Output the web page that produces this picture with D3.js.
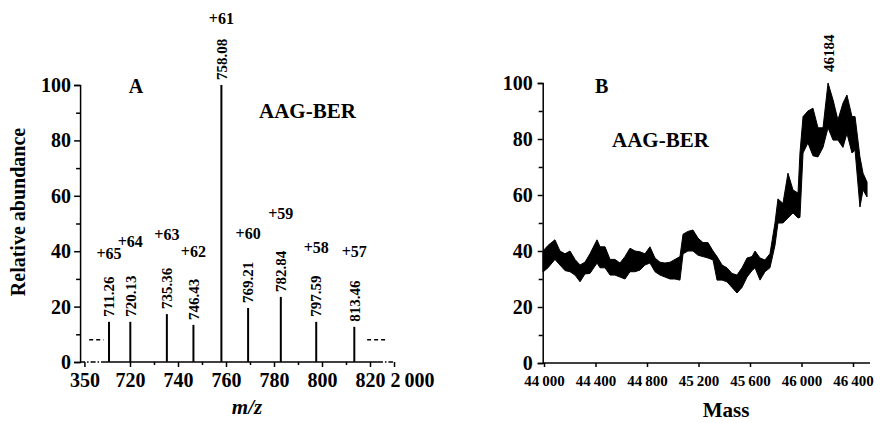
<!DOCTYPE html>
<html><head><meta charset="utf-8">
<script src="https://cdn.jsdelivr.net/npm/d3@7"></script>
<style>
body{margin:0;background:#fff}
svg text{font-family:"Liberation Serif","Times New Roman",serif;font-weight:bold;fill:#000}
</style></head><body><svg id="c" width="887" height="423"></svg>
<script>
// ---------- Panel A data ----------
const peakMz     = [711.26, 720.13, 735.36, 746.43, 758.08, 769.21, 782.84, 797.59, 813.46];
const peakAbund  = [14.5, 14.5, 17.3, 13.4, 100, 19.5, 23.5, 14.5, 12.7];
const peakCharge = ["+65", "+64", "+63", "+62", "+61", "+60", "+59", "+58", "+57"];
const chargeLevel = [37.2, 41.5, 44, 37.9, 122, 44.4, 51.6, 39.4, 37.9];
const aMajorTicks = [720, 740, 760, 780, 800, 820];
const aMajorLabels = ["720", "740", "760", "780", "800", "820"];
const aMinorTicks = [730, 750, 770, 790, 810];
const aBreakTicks = [701, 830];          // axis positions standing for the broken ends
const aBreakLabels = ["350", "2\u2009000"];
const aNoiseDashes = [[703, 709], [818.8, 827]]; // m/z spans of "- - -" marks
const aNoiseLevel = 8;
const yMajor = [0, 20, 40, 60, 80, 100];
const yMinor = [10, 30, 50, 70, 90];

// ---------- Panel B data ----------
const bMassTicks = [44000, 44400, 44800, 45200, 45600, 46000, 46400];
const bMassLabels = ["44\u2009000", "44\u2009400", "44\u2009800", "45\u2009200", "45\u2009600", "46\u2009000", "46\u2009400"];
const traceMass = [43992,44031,44085,44124,44163,44202,44241,44280,44318,44357,44412,44435,44474,44513,44551,44590,44629,44668,44707,44746,44784,44823,44862,44901,44940,44979,45017,45056,45080,45118,45157,45196,45235,45274,45313,45344,45383,45421,45460,45499,45538,45577,45616,45639,45678,45716,45755,45794,45817,45856,45895,45934,45973,45988,46012,46050,46089,46128,46167,46206,46245,46283,46322,46353,46392,46416,46454,46478,46509];
const traceUpper = [40,42,44,40,39,40,37,35,36,39,44,41.5,41.5,37,37,35.7,38,41,40,39.7,39,41.5,37.5,36,35.7,36,37,38,46,47,47.5,44.6,43,43,40,38,35,34,32,31.4,34,37.5,38,40,37.5,36.8,39,50,58.6,57,67.8,61.8,60.7,75,88,90,91,84,84,100,94,86.8,92.8,95.7,88,88,73.6,67.8,64.6];
const traceLower = [32.5,34,37,35,33,32.6,31.4,29,31.8,32,35.7,34,34,31.4,31.4,30.7,30,32.6,32.6,33.2,35,35.7,32.6,31.4,30.7,30,30,29.6,39,40,40,38.5,38,37.5,36.8,29.6,29.6,29,27,25,27,30.7,33,34,29.6,32.6,34,42,50,50,51.8,53.6,51.8,52,75,78.6,74,73.6,77,84,79.6,79.6,77,82,75,76,55.7,61.8,59.3];
const bPeakLabel = "46184";

const svg = d3.select("#c");

// ================= Panel A =================
const xA = d3.scaleLinear().domain([720, 820]).range([130, 370]);
const yA = d3.scaleLinear().domain([0, 100]).range([362, 85]);
const gA = svg.append("g");

const yAxA = gA.append("g").attr("transform", `translate(${xA(699.2)},0)`)
  .call(d3.axisLeft(yA).tickValues(yMajor).tickSize(6).tickPadding(3));
gA.append("g").attr("transform", `translate(${xA(699.2)},0)`)
  .call(d3.axisLeft(yA).tickValues(yMinor).tickSize(4).tickFormat(""))
  .select(".domain").remove();
yAxA.selectAll("text").style("font-size", "20px");

const allAT = aMajorTicks.concat(aBreakTicks);
const allAL = aMajorLabels.concat(aBreakLabels);
const xAxA = gA.append("g").attr("transform", `translate(0,${yA(0)})`)
  .call(d3.axisBottom(xA).tickValues(allAT).tickSize(5).tickPadding(6)
    .tickFormat((d, i) => allAL[i]));
xAxA.select(".domain").remove();
xAxA.selectAll("text").style("font-size", "20px");
xAxA.selectAll(".tick").filter(d => d === 830).select("text")
  .attr("text-anchor", "start").attr("dx", "-4");
gA.append("g").attr("transform", `translate(0,${yA(0)})`)
  .call(d3.axisBottom(xA).tickValues(aMinorTicks).tickSize(3).tickFormat(""))
  .select(".domain").remove();
gA.append("line").attr("x1", xA(709.6)).attr("x2", xA(823.3))
  .attr("y1", yA(0)).attr("y2", yA(0)).attr("stroke", "#000").attr("stroke-width", 1.5);
[[699.2, 709.6], [823.3, 829.6]].forEach(s => {
  gA.append("line").attr("x1", xA(s[0])).attr("x2", xA(s[1]))
    .attr("y1", yA(0)).attr("y2", yA(0)).attr("stroke", "#000").attr("stroke-width", 1.5)
    .attr("stroke-dasharray", "5,2,1.5,2");
});

aNoiseDashes.forEach(s => {
  gA.append("line").attr("x1", xA(s[0])).attr("x2", xA(s[1]))
    .attr("y1", yA(aNoiseLevel)).attr("y2", yA(aNoiseLevel))
    .attr("stroke", "#000").attr("stroke-width", 1.5).attr("stroke-dasharray", "4,3");
});

const peaks = peakMz.map((m, i) => ({m, a: peakAbund[i], z: peakCharge[i], lv: chargeLevel[i]}));
gA.selectAll(".pk").data(peaks).join("line")
  .attr("x1", d => xA(d.m)).attr("x2", d => xA(d.m))
  .attr("y1", yA(0)).attr("y2", d => yA(d.a))
  .attr("stroke", "#000").attr("stroke-width", 2);
gA.selectAll(".pl").data(peaks).join("text")
  .attr("transform", d => `translate(${xA(d.m)},${yA(d.a) - 5}) rotate(-90)`)
  .attr("dy", "0.35em").style("font-size", "15px")
  .text(d => d.m.toFixed(2));
gA.selectAll(".zl").data(peaks).join("text")
  .attr("x", d => xA(d.m)).attr("y", d => yA(d.lv))
  .attr("text-anchor", "middle").style("font-size", "16px")
  .text(d => d.z);

gA.append("text").attr("transform", "translate(25,212) rotate(-90)")
  .attr("text-anchor", "middle").style("font-size", "20px").text("Relative abundance");
gA.append("text").attr("x", 247).attr("y", 414).attr("text-anchor", "middle")
  .style("font-size", "21px").style("font-style", "italic").text("m/z");
gA.append("text").attr("x", 136).attr("y", 93).attr("text-anchor", "middle")
  .style("font-size", "20px").text("A");
gA.append("text").attr("x", 259).attr("y", 118).style("font-size", "21px").text("AAG-BER");

// ================= Panel B =================
const xB = d3.scaleLinear().domain([44000, 46400]).range([544, 853]);
const yB = d3.scaleLinear().domain([0, 100]).range([363, 83]);
const gB = svg.append("g");
const yAxB = gB.append("g").attr("transform", `translate(${xB(43990)},0)`)
  .call(d3.axisLeft(yB).tickValues(yMajor).tickSize(5).tickPadding(5));
yAxB.selectAll("text").style("font-size", "20px");
gB.append("g").attr("transform", `translate(${xB(43990)},0)`)
  .call(d3.axisLeft(yB).tickValues(yMinor).tickSize(4).tickFormat(""))
  .select(".domain").remove();
const xAxB = gB.append("g").attr("transform", `translate(0,${yB(0)})`)
  .call(d3.axisBottom(xB).tickValues(bMassTicks).tickSize(4).tickPadding(8)
    .tickFormat((d, i) => bMassLabels[i]));
xAxB.select(".domain").remove();
xAxB.selectAll("text").style("font-size", "15px");
gB.append("line").attr("x1", xB(43990)).attr("x2", xB(46532))
  .attr("y1", yB(0)).attr("y2", yB(0)).attr("stroke", "#000").attr("stroke-width", 1.5);
svg.selectAll(".domain, .tick line").attr("stroke-width", 1.5);

// trace: noisy band between the low and high readings
const trace = traceMass.map((m, i) => ({m, u: traceUpper[i], l: traceLower[i]}));
gB.append("path").datum(trace)
  .attr("d", d3.area().x(d => xB(d.m)).y0(d => yB(d.l)).y1(d => yB(d.u)))
  .attr("fill", "#000").attr("stroke", "#000").attr("stroke-width", 1)
  .attr("stroke-linejoin", "miter");

const maxPt = trace.reduce((a, b) => (b.u > a.u ? b : a));
gB.append("text").attr("transform", `translate(${xB(maxPt.m) + 1},${yB(maxPt.u) - 11}) rotate(-90)`)
  .attr("dy", "0.35em").style("font-size", "15px").text(bPeakLabel);
gB.append("text").attr("x", 595).attr("y", 93).style("font-size", "20px").text("B");
gB.append("text").attr("x", 612).attr("y", 147).style("font-size", "21px").text("AAG-BER");
gB.append("text").attr("x", 726).attr("y", 417).attr("text-anchor", "middle")
  .style("font-size", "21px").text("Mass");
</script></body></html>
